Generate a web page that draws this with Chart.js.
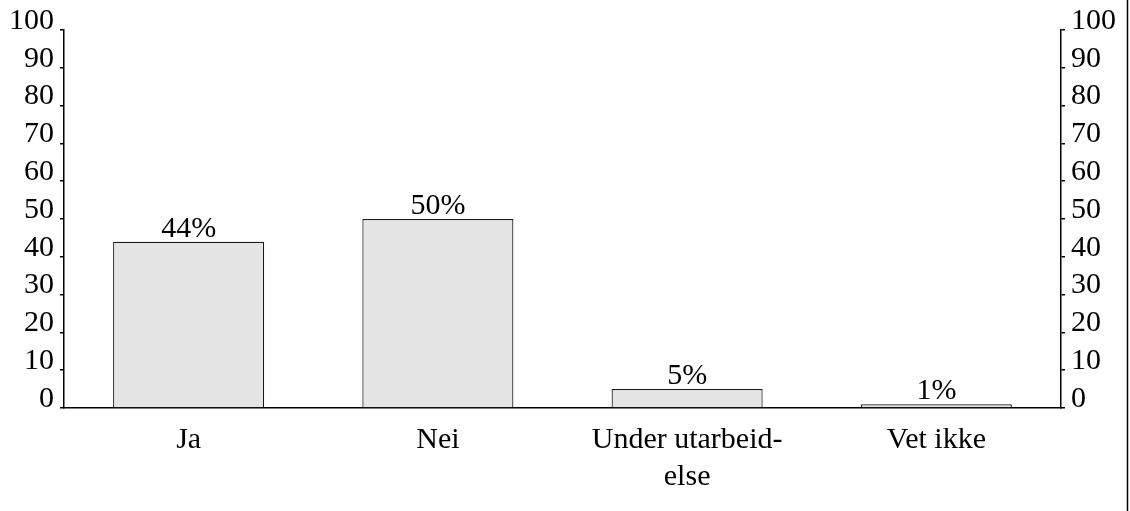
<!DOCTYPE html>
<html>
<head>
<meta charset="utf-8">
<script src="https://cdn.jsdelivr.net/npm/chart.js@4/dist/chart.umd.min.js"></script>
<style>
    html, body { margin: 0; padding: 0; background: #fff; }
    #wrap { position: relative; width: 1130px; height: 511px; }
</style>
</head>
<body>
<div id="wrap"><canvas id="chart"></canvas></div>
<script>
// 数据
const categories = ['Ja', 'Nei', ['Under utarbeid-', 'else'], 'Vet ikke'];
const values = [44, 50, 5, 1];
const valueLabels = ['44%', '50%', '5%', '1%'];
const tickValues = [0, 10, 20, 30, 40, 50, 60, 70, 80, 90, 100];

const FONT = { family: '"Liberation Serif", "Times New Roman", serif', size: 30 };

// 柱顶百分比标签 + 右侧边框线
const labelPlugin = {
    id: 'valueLabels',
    afterDatasetsDraw(chart) {
        const ctx = chart.ctx;
        const meta = chart.getDatasetMeta(0);
        ctx.save();
        ctx.font = `${FONT.size}px ${FONT.family}`;
        ctx.fillStyle = '#000';
        ctx.textAlign = 'center';
        ctx.textBaseline = 'alphabetic';
        meta.data.forEach((bar, i) => {
            ctx.fillText(valueLabels[i], bar.x, bar.y - 5);
        });
        ctx.restore();
    },
    afterDraw(chart) {
        const ctx = chart.ctx;
        ctx.save();
        ctx.strokeStyle = '#000';
        ctx.lineWidth = 1.5;
        ctx.beginPath();
        ctx.moveTo(1127.5, 0);
        ctx.lineTo(1127.5, chart.height);
        ctx.stroke();
        ctx.restore();
    }
};

const yTicks = {
    color: '#000',
    font: FONT,
    padding: 6,
    labelOffset: -9,
    autoSkip: false
};

new Chart(document.getElementById('chart'), {
    type: 'bar',
    data: {
        labels: categories,
        datasets: [{
            data: values,
            backgroundColor: '#e5e5e5',
            borderColor: '#1a1a1a',
            borderWidth: 1.2,
            categoryPercentage: 1,
            barPercentage: 0.606
        }]
    },
    options: {
        responsive: true,
        maintainAspectRatio: false,
        animation: false,
        layout: { padding: { top: 30, left: 0, right: 0, bottom: 0 } },
        plugins: {
            legend: { display: false },
            tooltip: { enabled: false }
        },
        scales: {
            x: {
                grid: { display: false, drawTicks: false },
                border: { display: true, color: '#000', width: 1.5 },
                ticks: { color: '#000', font: { ...FONT, lineHeight: 1.22 }, padding: 14, maxRotation: 0, autoSkip: false },
                afterFit: scale => { scale.height = 103; }
            },
            y: {
                position: 'left',
                min: 0,
                max: 100,
                afterBuildTicks: scale => { scale.ticks = tickValues.map(v => ({ value: v })); },
                grid: { drawOnChartArea: false, drawTicks: true, tickLength: 4, color: '#000', lineWidth: 1.5 },
                border: { display: true, color: '#000', width: 1.5 },
                ticks: yTicks,
                afterFit: scale => { scale.width = 64; }
            },
            y2: {
                position: 'right',
                min: 0,
                max: 100,
                afterBuildTicks: scale => { scale.ticks = tickValues.map(v => ({ value: v })); },
                grid: { drawOnChartArea: false, drawTicks: true, tickLength: 4, color: '#000', lineWidth: 1.5 },
                border: { display: true, color: '#000', width: 1.5 },
                ticks: yTicks,
                afterFit: scale => { scale.width = 69; }
            }
        }
    },
    plugins: [labelPlugin]
});
</script>
</body>
</html>
